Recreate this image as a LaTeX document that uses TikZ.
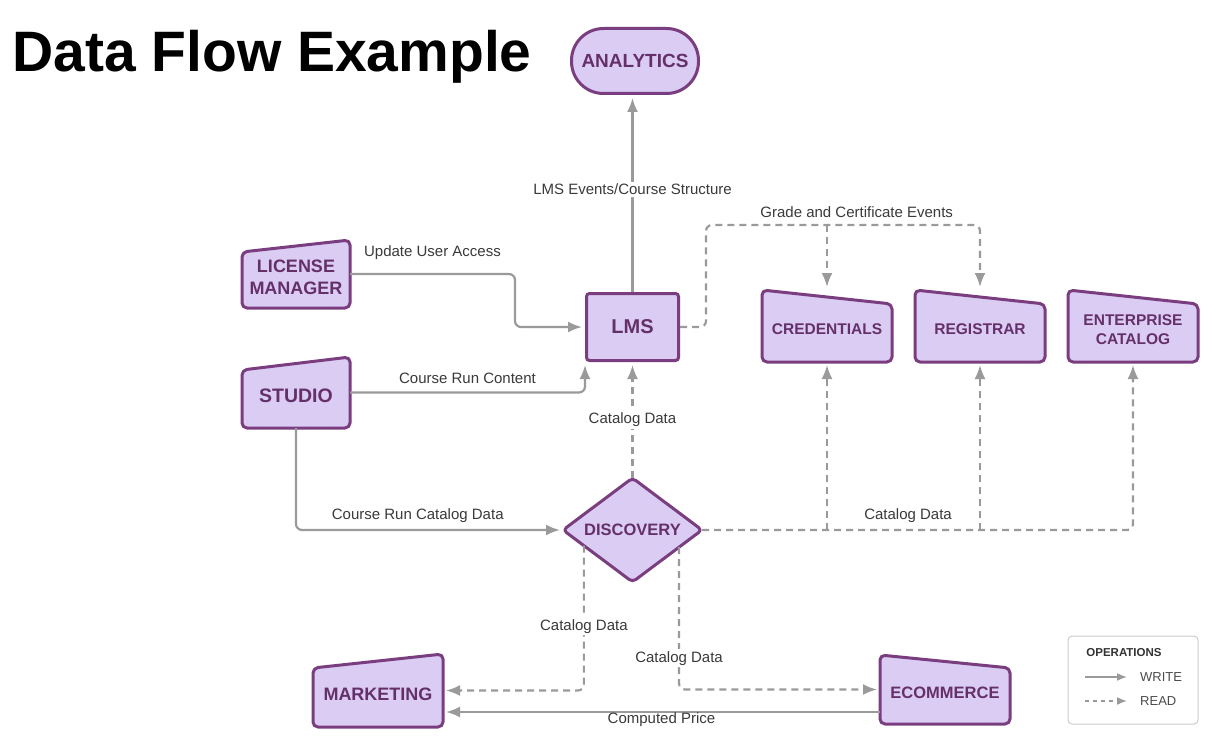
\documentclass[tikz,border=0pt]{standalone}
\usepackage{fontspec}
\setmainfont{Liberation Sans}
\usetikzlibrary{arrows.meta,calc}
\definecolor{boxfill}{HTML}{DACCF2}
\definecolor{boxline}{HTML}{7A3E80}
\definecolor{boxtext}{HTML}{65306A}
\definecolor{conn}{HTML}{9A9A9A}
\definecolor{labtext}{HTML}{3A3A3A}
\tikzset{
 shapebox/.style={fill=boxfill, draw=boxline, line width=3pt, rounded corners=5pt, line join=round},
 holder/.style={inner sep=0pt, outer sep=0pt, draw=none, rectangle},
 wr/.style={draw=conn, line width=2.2pt, -{Latex[length=14pt,width=11pt,sharp]}, rounded corners=6pt, shorten >=3pt},
 rd/.style={wr, dash pattern=on 7pt off 5pt},
 lab/.style={text=labtext, font=\fontsize{15}{18}\selectfont, inner sep=2pt},
 boxlabel/.style={text=boxtext, align=center, inner sep=0pt},
}
% #1 name, #2 xl, #3 xr, #4 top-left y, #5 top-right y, #6 bottom y, #7 font, #8 text
\newcommand{\manbox}[8]{%
  \draw[shapebox] (#2,#4) -- (#3,#5) -- (#3,#6) -- (#2,#6) -- cycle;
  \node[holder, minimum width={#3-#2}, minimum height={#6-min(#4,#5)}] (#1) at ({(#2+#3)/2},{(min(#4,#5)+#6)/2}) {};
  \node[boxlabel, font=#7] (#1t) at ({(#2+#3)/2},{((#4+#5)/2+#6)/2}) {#8};
}
\begin{document}
\begin{tikzpicture}[x=1pt,y=-1pt]
\useasboundingbox (0,0) rectangle (1218,741);
\fill[white] (0,0) rectangle (1218,741);

\node[anchor=base west, font=\bfseries\fontsize{57}{60}\selectfont, inner sep=0pt] (title) at (12,72) {Data Flow Example};

% boxes
\node[fill=boxfill, draw=boxline, line width=3pt, rounded corners=32pt, minimum width=127, minimum height=65, boxlabel, font=\bfseries\fontsize{19}{22}\selectfont] (ana) at (635,61) {ANALYTICS};
\node[fill=boxfill, draw=boxline, line width=3pt, rounded corners=3pt, minimum width=92, minimum height=67, boxlabel, font=\bfseries\fontsize{20}{23}\selectfont] (lms) at (632.5,327) {LMS};

\manbox{lic}{242}{350}{252}{240}{308}{\bfseries\fontsize{18}{22}\selectfont}{LICENSE\\MANAGER}
\manbox{studio}{242}{350}{370}{357}{428}{\bfseries\fontsize{19.5}{22}\selectfont}{STUDIO}
\manbox{cred}{762}{892}{290}{304}{362}{\bfseries\fontsize{15.5}{19}\selectfont}{CREDENTIALS}
\manbox{reg}{915}{1045}{290}{304}{362}{\bfseries\fontsize{15.5}{19}\selectfont}{REGISTRAR}
\manbox{ent}{1068}{1198}{290}{304}{362}{\bfseries\fontsize{15.5}{19}\selectfont}{ENTERPRISE\\CATALOG}
\manbox{mkt}{313}{443}{668}{654}{727}{\bfseries\fontsize{18}{22}\selectfont}{MARKETING}
\manbox{ecom}{880}{1010}{655}{668}{724}{\bfseries\fontsize{16.5}{20}\selectfont}{ECOMMERCE}

% discovery diamond
\draw[shapebox, rounded corners=4pt] (632.5,478) -- (702,530) -- (632.5,582) -- (563,530) -- cycle;
\node[holder, minimum width=139, minimum height=104] (disc) at (632.5,530) {};
\node[boxlabel, font=\bfseries\fontsize{16.5}{20}\selectfont] (disct) at (632.5,530) {DISCOVERY};

% connectors
\draw[wr] (lms.north) -- (lms.north |- ana.south) node[lab, fill=white, pos=0.52] (l1) {LMS Events/Course Structure};
\draw[wr] (lic.east) -- node[lab, above=11pt, pos=0.5] (l2) {Update User Access} (515,274) -- (515,327) -- (lms.west);
\draw[wr] (studio.east) -| node[lab, above=6pt, pos=0.25] (l3) {Course Run Content} (lms.south west);
\draw[rd] (disc.north) -- (lms.south) node[lab, fill=white, midway] (l4) {Catalog Data};

\coordinate (g1) at (706,327);
\coordinate (g2) at (706,225);
\coordinate (g3) at (980,225);
\coordinate (gc) at (827,225);
\draw[rd] (lms.east) -- (g1) -- (g2) -- node[lab, above=4pt, pos=0.55] (l5) {Grade and Certificate Events} (g3) -- (reg.north);
\draw[rd] (gc) -- (cred.north);

\draw[wr] (studio.south) |- node[lab, above=4pt, pos=0.728] (l6) {Course Run Catalog Data} (disc.west);

\draw[rd] (disc.east) -| node[lab, above=4pt, pos=0.239] (l7) {Catalog Data} (ent.south);
\draw[rd] (cred.south |- disc.east) -- (cred.south);
\draw[rd] (reg.south |- disc.east) -- (reg.south);

\coordinate (dl) at ($(disc.west)!0.3!(disc.south)$);
\coordinate (dr) at ($(disc.east)!0.33!(disc.south)$);
\draw[rd] (dl) |- node[lab, fill=white, pos=0.278] (l8) {Catalog Data} (mkt.east);
\draw[rd] (dr) |- node[lab, fill=white, pos=0.39] (l9) {Catalog Data} (ecom.west);

\coordinate (e1) at ($(ecom.west)+(0,22.5)$);
\coordinate (m1) at ($(mkt.east)+(0,21.5)$);
\draw[wr] (e1) -- node[lab, below=-2pt, midway] (l10) {Computed Price} (m1);

% legend
\node[draw=black!20, rounded corners=4pt, line width=1pt, minimum width=130, minimum height=88, inner sep=0pt] (leg) at (1133,680) {};
\node[font=\bfseries\fontsize{11.5}{13}\selectfont, text=black!80, inner sep=0pt] (legt) at (1124,653) {OPERATIONS};
\coordinate (w1) at (1085,677);
\coordinate (w2) at (1130,677);
\coordinate (r1) at (1085,701);
\coordinate (r2) at (1130,701);
\draw[wr, line width=1.6pt, -{Latex[length=10pt,width=8pt,sharp]}] (w1) -- (w2);
\draw[rd, line width=1.6pt, -{Latex[length=10pt,width=8pt,sharp]}, dash pattern=on 4pt off 4pt] (r1) -- (r2);
\node[anchor=west, font=\fontsize{13}{15}\selectfont, text=black!70, inner sep=0pt] (legw) at (1140,677) {WRITE};
\node[anchor=west, font=\fontsize{13}{15}\selectfont, text=black!70, inner sep=0pt] (legr) at (1140,701) {READ};
\end{tikzpicture}
\end{document}
